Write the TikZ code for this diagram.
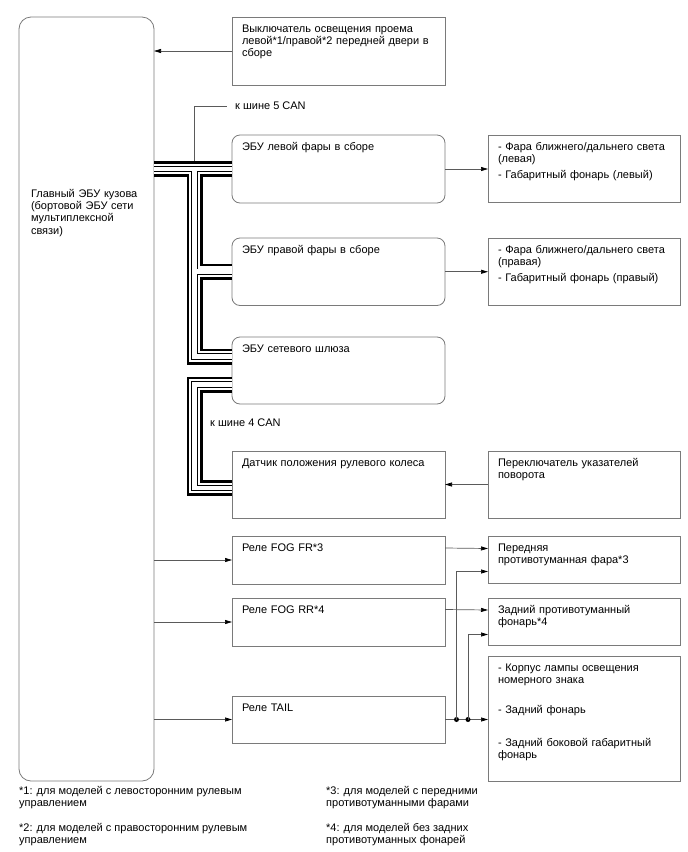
\documentclass[tikz,border=0pt]{standalone}
\usepackage{fontspec}
\setmainfont{Liberation Sans}
\usetikzlibrary{arrows.meta,positioning,calc}
\definecolor{boxgray}{HTML}{7A7A7A}
\definecolor{wiregray}{HTML}{5A5A5A}
\newcommand{\diagfont}{\fontsize{11}{12.2}\selectfont}

\begin{document}
\begin{tikzpicture}[x=1pt, y=-1pt,
    every node/.style={font=\diagfont},
    unit/.style={draw=boxgray, line width=0.8pt, anchor=north west, align=left, outer sep=0pt,
      text width=193pt, inner xsep=10pt, inner ysep=0pt, text height=15pt, text depth=#1},
    ecu/.style={unit=#1, rounded corners=8pt},
    load/.style={unit=#1, text width=172pt},
    bodyecu/.style={draw=boxgray, line width=0.8pt, rounded corners=12pt, anchor=north west,
      align=left, outer sep=0pt, text width=111pt, inner xsep=12pt, inner ysep=0pt,
      text height=180.5pt, text depth=583.5pt},
    arr/.style={draw=wiregray, line width=0.7pt, -{Triangle[length=7pt, width=4pt, color=black]}},
    wire/.style={draw=wiregray, line width=0.7pt},
    layer/.style={line join=miter, line cap=butt},
    can/.style={layer, line width=4.6pt, draw=white,
      preaction={layer, draw=black, line width=16pt},
      preaction={layer, draw=white, line width=10.6pt},
      preaction={layer, draw=black, line width=6.4pt}},
    dot/.style={circle, fill=black, inner sep=0pt, minimum size=5pt},
    note/.style={align=left, inner sep=2pt}]
  \useasboundingbox (0,0) rectangle (688,852);

  % body ECU
  \node[bodyecu] (bcm) at (19,17) {Главный ЭБУ кузова\\(бортовой ЭБУ сети\\мультиплексной\\связи)};

  % middle column
  \node[unit=53pt] (door) at (232,17) {Выключатель освещения проема\\левой*1/правой*2 передней двери в\\сборе};
  \node[ecu=53pt, below=50pt of door] (lhecu) {ЭБУ левой фары в сборе};
  \node[ecu=52.5pt, below=35pt of lhecu] (rhecu) {ЭБУ правой фары в сборе};
  \node[ecu=52pt, below=31.5pt of rhecu] (gw) {ЭБУ сетевого шлюза};
  \node[unit=52pt, below=47pt of gw] (sensor) {Датчик положения рулевого колеса};
  \node[unit=33pt, below=18pt of sensor] (fogfr) {Реле FOG FR*3};
  \node[unit=33pt, below=14pt of fogfr] (fogrr) {Реле FOG RR*4};
  \node[unit=32pt, below=50pt of fogrr] (tailrly) {Реле TAIL};

  % right column
  \node[load=52pt, right=43pt of lhecu] (lhlamp) {- Фара ближнего/дальнего света\\(левая)\\[4pt]- Габаритный фонарь (левый)};
  \node[load=52pt, right=43pt of rhecu] (rhlamp) {- Фара ближнего/дальнего света\\(правая)\\[4pt]- Габаритный фонарь (правый)};
  \node[load=52pt, right=43pt of sensor] (turn) {Переключатель указателей\\поворота};
  \node[load=32pt, right=43pt of fogfr] (frontfog) {Передняя\\противотуманная фара*3};
  \node[load=32pt, right=43pt of fogrr] (rearfog) {Задний противотуманный\\фонарь*4};
  \node[load=110pt] (tailgrp) at (488,656) {- Корпус лампы освещения\\номерного знака\\[18pt]- Задний фонарь\\[21pt]- Задний боковой габаритный\\фонарь};

  % CAN lines
  \coordinate (busx) at (194.5,0);
  \coordinate (j5) at (busx |- lhecu.west);
  \coordinate (c5) at ([yshift=-19.5pt]gw.north west);
  \coordinate (c4a) at ([yshift=-47.5pt]gw.north west);
  \coordinate (c4b) at ([yshift=-3.5pt]sensor.west);
  \draw[can] (bcm.east |- j5) -- (lhecu.west)
    (j5) |- (c5)
    (busx |- rhecu.west) -- (rhecu.west)
    (c4a) -| (busx |- c4b) -- (c4b);
  \node[note, anchor=west] (can5) at (233,106) {к шине 5 CAN};
  \node[note, anchor=west] (can4) at (208,423) {к шине 4 CAN};
  \draw[wire] ([yshift=8pt]j5) |- ([xshift=-6pt]can5.west);

  % signal lines
  \draw[arr] (door.west) -- (door.west -| bcm.east);
  \draw[arr] (lhecu.east) -- (lhlamp.west);
  \draw[arr] (rhecu.east) -- (rhlamp.west);
  \draw[arr] (turn.west) -- (sensor.east);
  \draw[arr] (bcm.east |- fogfr.west) -- (fogfr.west);
  \draw[arr] (bcm.east |- fogrr.west) -- (fogrr.west);
  \draw[arr] (bcm.east |- tailrly.west) -- (tailrly.west);
  \draw[arr] ([yshift=-12pt]fogfr.north east) -- ([yshift=-12pt]frontfog.north west);
  \draw[arr] ([yshift=-11.5pt]fogrr.north east) -- ([yshift=-11.5pt]rearfog.north west);
  \draw[arr] (tailrly.east) -- (tailrly.east -| tailgrp.west);
  \node[dot] (d1) at ($(tailrly.east)+(11.5,0)$) {};
  \node[dot] (d2) at ($(tailrly.east)+(23,0)$) {};
  \draw[arr] (d1.center) |- ([yshift=-35pt]frontfog.north west);
  \draw[arr] (d2.center) |- ([yshift=-36pt]rearfog.north west);

  % footnotes
  \node[note, anchor=north west] (fn1) at (17,784) {*1: для моделей с левосторонним рулевым\\управлением};
  \node[note, anchor=north west] (fn2) at (17,821) {*2: для моделей с правосторонним рулевым\\управлением};
  \node[note, anchor=north west] (fn3) at (324,784) {*3: для моделей с передними\\противотуманными фарами};
  \node[note, anchor=north west] (fn4) at (324,821) {*4: для моделей без задних\\противотуманных фонарей};
\end{tikzpicture}
\end{document}
